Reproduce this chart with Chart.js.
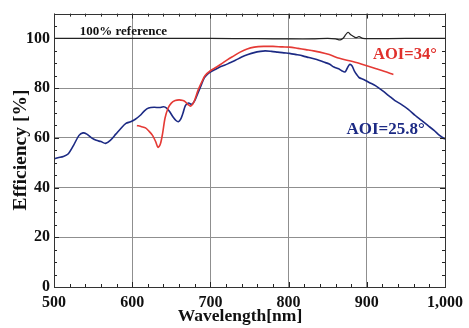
<!DOCTYPE html>
<html><head><meta charset="utf-8">
<script src="https://cdn.jsdelivr.net/npm/chart.js@4.4.1/dist/chart.umd.min.js"></script>
<style>html,body{margin:0;padding:0;background:#fff}#wrap{width:469px;height:328px}</style>
</head><body><div id="wrap"><canvas id="c" width="469" height="328"></canvas></div>
<script>
const xTicks = [500, 600, 700, 800, 900, 1000];
const yTicks = [0, 20, 40, 60, 80, 100];

const blueWl = [500,505,512,518,525,532,537,542,548,554,560,566,572,579,586,592,598,604,610,616,621,628,635,640,644,648,652,656,659,662,665,668,672,676,680,684,688,692,696,700,706,712,718,725,732,740,748,756,764,770,778,786,794,801,810,818,826,836,845,852,858,864,868,872,875,878,881,884,887,890,896,903,911,920,928,936,944,953,962,970,978,986,993,1000];
const blueEff = [51.5,52,52.5,53.5,57,61,62,61.5,60,59,58.5,57.8,59,61.5,64,65.8,66.5,67.5,69,71,72,72.3,72.2,72.5,72,70.5,68.5,67,66.5,67.5,70,73,74,73.5,75,78,81,84,85.5,86.5,87.5,88.5,89.2,90.2,91.2,92.5,93.5,94.3,94.8,95,94.8,94.5,94.2,94,93.5,93,92.3,91.5,90.5,89.7,88.5,87.8,87,86.5,88,89.5,89,87,85.5,84.3,83.5,82.3,81,79,77,75,73.5,71.5,69,67,65,63,61,59.5];

const redWl = [606,612,617,622,626,630,633,636,639,642,646,650,655,660,665,668,671,675,679,684,689,693,700,708,715,722,730,738,747,756,768,780,792,801,812,822,832,840,852,865,878,890,900,912,922,934];
const redEff = [65,64.5,64,62.5,61,58.5,56.2,57.5,62,68,72,74,75,75.3,75,74.5,73.5,72.8,74.5,79,82.5,85,87,88.5,90,91.5,93,94.5,95.8,96.5,96.8,96.8,96.6,96.5,96,95.5,95,94.5,93.5,92,91,90,89,87.8,86.8,85.5];

const refWl = [500,600,700,760,800,830,850,860,866,870,873,876,879,882,886,890,895,905,950,1000];
const refEff = [100,100,100,99.9,99.8,99.8,100,99.8,99.4,100.2,101.5,102.5,101.6,101,100.3,100.7,100,99.9,100,100];

const labels = [
  {text: "100% reference", x: 533, y: 102.6, color: "#111", size: 13},
  {text: "AOI=34°", x: 908, y: 93.6, color: "#e0302c", size: 16.5},
  {text: "AOI=25.8°", x: 874, y: 63.5, color: "#1c2a84", size: 17}
];
const xTitle = "Wavelength[nm]";
const yTitle = "Efficiency [%]";

const pts = (xs, ys) => xs.map((x, i) => ({x: x, y: ys[i]}));
const SERIF = "'Liberation Serif', 'Times New Roman', serif";

const deco = {
  id: 'deco',
  afterDraw(chart) {
    const ctx = chart.ctx, a = chart.chartArea;
    const xs = chart.scales.x, ys = chart.scales.y;
    ctx.save();
    ctx.strokeStyle = '#222'; ctx.lineWidth = 1;
    ctx.beginPath();
    for (let v = 500; v <= 1000; v += 20) {
      const p = Math.round(xs.getPixelForValue(v)) + 0.5;
      const L = (v % 100 === 0) ? 5 : 3;
      ctx.moveTo(p, a.bottom); ctx.lineTo(p, a.bottom - L);
      ctx.moveTo(p, a.top); ctx.lineTo(p, a.top + L);
    }
    for (let v = 0; v <= 110; v += 5) {
      const p = Math.round(ys.getPixelForValue(v)) + 0.5;
      const L = (v % 20 === 0) ? 5 : 3;
      ctx.moveTo(a.left, p); ctx.lineTo(a.left + L, p);
      ctx.moveTo(a.right, p); ctx.lineTo(a.right - L, p);
    }
    ctx.stroke();
    ctx.strokeStyle = '#333';
    ctx.strokeRect(Math.round(a.left) + 0.5, Math.round(a.top) + 0.5, Math.round(a.right - a.left), Math.round(a.bottom - a.top));
    ctx.textBaseline = 'middle';
    for (const l of labels) {
      ctx.fillStyle = l.color;
      ctx.font = "bold " + l.size + "px " + SERIF;
      ctx.textAlign = 'left';
      ctx.fillText(l.text, xs.getPixelForValue(l.x), ys.getPixelForValue(l.y));
    }
    ctx.fillStyle = '#111';
    ctx.font = "bold 17.5px " + SERIF;
    ctx.textAlign = 'center';
    ctx.fillText(xTitle, 240, 316);
    ctx.font = "bold 19.5px " + SERIF;
    ctx.translate(21, 150);
    ctx.rotate(-Math.PI / 2);
    ctx.fillText(yTitle, 0, 0);
    ctx.restore();
  }
};

new Chart(document.getElementById('c'), {
  type: 'line',
  data: {
    datasets: [
      {data: pts(refWl, refEff), borderColor: '#222', borderWidth: 1.2},
      {data: pts(redWl, redEff), borderColor: '#e53a35', borderWidth: 1.6},
      {data: pts(blueWl, blueEff), borderColor: '#1c2a84', borderWidth: 1.6}
    ]
  },
  options: {
    responsive: false,
    animation: false,
    layout: {padding: {left: 0, right: 19, top: 12, bottom: 0}},
    elements: {point: {radius: 0}, line: {tension: 0.3, fill: false}},
    plugins: {legend: {display: false}, tooltip: {enabled: false}},
    scales: {
      x: {
        type: 'linear', min: 500, max: 1000,
        afterBuildTicks: s => { s.ticks = xTicks.map(v => ({value: v})); },
        afterFit: s => { s.height = 41; },
        grid: {color: '#8f8f8f', lineWidth: 1, drawTicks: false},
        border: {display: false},
        ticks: {color: '#111', padding: 6, maxRotation: 0, font: {family: SERIF, size: 16, weight: 'bold'}}
      },
      y: {
        min: 0, max: 110,
        afterBuildTicks: s => { s.ticks = yTicks.map(v => ({value: v})); },
        afterFit: s => { s.width = 54; },
        grid: {color: '#8f8f8f', lineWidth: 1, drawTicks: false},
        border: {display: false},
        ticks: {color: '#111', padding: 4, font: {family: SERIF, size: 16, weight: 'bold'}}
      }
    }
  },
  plugins: [deco]
});
</script>
</body></html>
